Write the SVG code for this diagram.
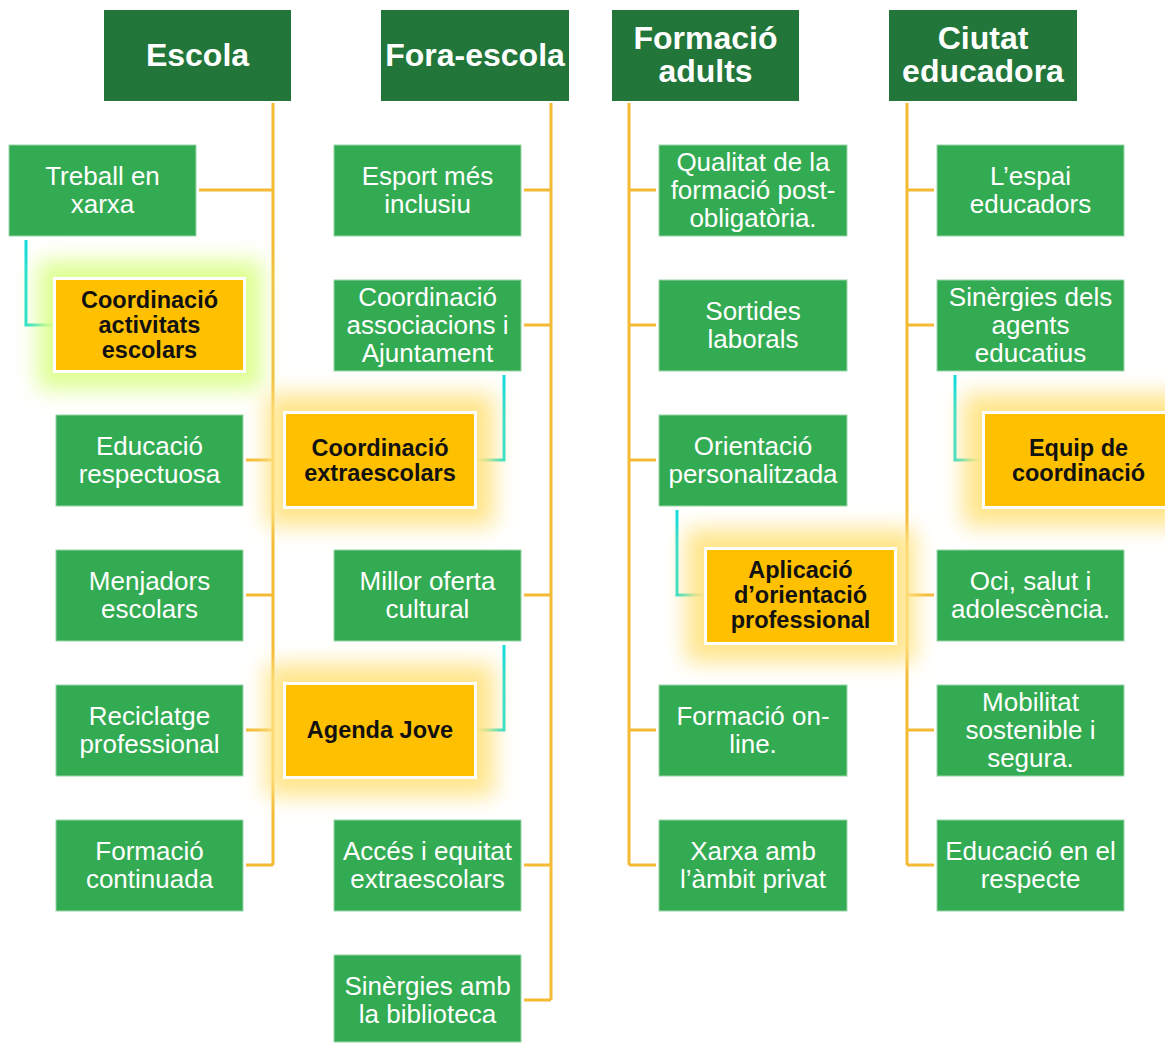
<svg xmlns="http://www.w3.org/2000/svg" width="1165" height="1043" viewBox="0 0 1165 1043">
<defs>
<style>
.hdr{fill:#22763A}
.hdrt{font-family:"Liberation Sans",Arial,sans-serif;font-weight:bold;font-size:32px;fill:#fff;text-anchor:middle}
.box{fill:#33AB52;stroke:#9ad6a8;stroke-width:1}
.bt{font-family:"Liberation Sans",Arial,sans-serif;font-size:26px;fill:#fff;text-anchor:middle}
.ob{fill:#FFC000;stroke:#fff;stroke-width:3}
.ot{font-family:"Liberation Sans",Arial,sans-serif;font-weight:bold;font-size:23.5px;fill:#111;text-anchor:middle}
.yl{fill:none;stroke:#F4BA34;stroke-width:3}
.tl{fill:none;stroke-width:3}
.glowY{fill:#FFE58A;filter:url(#blur)}
.glowG{fill:#DDFF8F;filter:url(#blur)}
</style>
<filter id="blur" x="-50%" y="-50%" width="200%" height="200%"><feGaussianBlur stdDeviation="11"/></filter>
<linearGradient id="tgR" x1="0" y1="0" x2="1" y2="1"><stop offset="0" stop-color="#12DCDC"/><stop offset="0.7" stop-color="#1CDDC8"/><stop offset="1" stop-color="#66E08A"/></linearGradient>
<linearGradient id="tgL" x1="1" y1="0" x2="0" y2="1"><stop offset="0" stop-color="#12DCDC"/><stop offset="0.7" stop-color="#1CDDC8"/><stop offset="1" stop-color="#66E08A"/></linearGradient>
</defs>
<rect width="1165" height="1043" fill="#fff"/>

<g id="connectors">
<path class="yl" d="M273 103V865M199 190H273M246 460H273M246 595H273M246 730H273M246 865H273"/>
<path class="yl" d="M551 103V1000M524 190H551M524 325H551M524 595H551M524 865H551M524 1000H551"/>
<path class="yl" d="M629 103V865M629 190H656M629 325H656M629 460H656M629 730H656M629 865H656"/>
<path class="yl" d="M907 103V865M907 190H934M907 325H934M907 595H934M907 730H934M907 865H934"/>
<path class="tl" stroke="url(#tgR)" d="M26 240V325H53"/>
<path class="tl" stroke="url(#tgL)" d="M504 375V460H477"/>
<path class="tl" stroke="url(#tgL)" d="M504 645V730H477"/>
<path class="tl" stroke="url(#tgR)" d="M677 510V595H704"/>
<path class="tl" stroke="url(#tgR)" d="M955 375V460H982"/>
</g>

<g id="h-escola"><rect class="hdr" x="104" y="10" width="187" height="91"/><text class="hdrt" x="197.5" y="66">Escola</text></g>
<g id="h-fora"><rect class="hdr" x="381" y="10" width="188" height="91"/><text class="hdrt" x="475" y="66">Fora-escola</text></g>
<g id="h-formacio"><rect class="hdr" x="612" y="10" width="187" height="91"/><text class="hdrt" x="705.5" y="49">Formació</text><text class="hdrt" x="705.5" y="82">adults</text></g>
<g id="h-ciutat"><rect class="hdr" x="889" y="10" width="188" height="91"/><text class="hdrt" x="983" y="49">Ciutat</text><text class="hdrt" x="983" y="82">educadora</text></g>

<!-- Escola -->
<g id="e1"><rect class="box" x="9" y="145" width="187" height="91"/><text class="bt" x="102.5" y="185">Treball en</text><text class="bt" x="102.5" y="213">xarxa</text></g>
<g id="e2"><rect class="glowG" x="38" y="261" width="224" height="128"/><rect class="ob" x="54.5" y="278.5" width="190" height="93"/><text class="ot" x="149.5" y="308">Coordinació</text><text class="ot" x="149.5" y="333">activitats</text><text class="ot" x="149.5" y="358">escolars</text></g>
<g id="e3"><rect class="box" x="56" y="415" width="187" height="91"/><text class="bt" x="149.5" y="455">Educació</text><text class="bt" x="149.5" y="483">respectuosa</text></g>
<g id="e4"><rect class="box" x="56" y="550" width="187" height="91"/><text class="bt" x="149.5" y="590">Menjadors</text><text class="bt" x="149.5" y="618">escolars</text></g>
<g id="e5"><rect class="box" x="56" y="685" width="187" height="91"/><text class="bt" x="149.5" y="725">Reciclatge</text><text class="bt" x="149.5" y="753">professional</text></g>
<g id="e6"><rect class="box" x="56" y="820" width="187" height="91"/><text class="bt" x="149.5" y="860">Formació</text><text class="bt" x="149.5" y="888">continuada</text></g>

<!-- Fora-escola -->
<g id="f1"><rect class="box" x="334" y="145" width="187" height="91"/><text class="bt" x="427.5" y="185">Esport més</text><text class="bt" x="427.5" y="213">inclusiu</text></g>
<g id="f2"><rect class="box" x="334" y="280" width="187" height="91"/><text class="bt" x="427.5" y="306">Coordinació</text><text class="bt" x="427.5" y="334">associacions i</text><text class="bt" x="427.5" y="362">Ajuntament</text></g>
<g id="f3"><rect class="glowY" x="266" y="394" width="228" height="132"/><rect class="ob" x="284.5" y="412.5" width="191" height="95"/><text class="ot" x="380" y="456">Coordinació</text><text class="ot" x="380" y="481">extraescolars</text></g>
<g id="f4"><rect class="box" x="334" y="550" width="187" height="91"/><text class="bt" x="427.5" y="590">Millor oferta</text><text class="bt" x="427.5" y="618">cultural</text></g>
<g id="f5"><rect class="glowY" x="266" y="664" width="228" height="132"/><rect class="ob" x="284.5" y="683.5" width="191" height="94"/><text class="ot" x="380" y="738">Agenda Jove</text></g>
<g id="f6"><rect class="box" x="334" y="820" width="187" height="91"/><text class="bt" x="427.5" y="860">Accés i equitat</text><text class="bt" x="427.5" y="888">extraescolars</text></g>
<g id="f7"><rect class="box" x="334" y="955" width="187" height="87"/><text class="bt" x="427.5" y="995">Sinèrgies amb</text><text class="bt" x="427.5" y="1023">la biblioteca</text></g>

<!-- Formació adults -->
<g id="a1"><rect class="box" x="659" y="145" width="188" height="91"/><text class="bt" x="753" y="171">Qualitat de la</text><text class="bt" x="753" y="199">formació post-</text><text class="bt" x="753" y="227">obligatòria.</text></g>
<g id="a2"><rect class="box" x="659" y="280" width="188" height="91"/><text class="bt" x="753" y="320">Sortides</text><text class="bt" x="753" y="348">laborals</text></g>
<g id="a3"><rect class="box" x="659" y="415" width="188" height="91"/><text class="bt" x="753" y="455">Orientació</text><text class="bt" x="753" y="483">personalitzada</text></g>
<g id="a4"><rect class="glowY" x="686" y="529" width="229" height="133"/><rect class="ob" x="705.5" y="548.5" width="190" height="95"/><text class="ot" x="800.5" y="578">Aplicació</text><text class="ot" x="800.5" y="603">d’orientació</text><text class="ot" x="800.5" y="628">professional</text></g>
<g id="a5"><rect class="box" x="659" y="685" width="188" height="91"/><text class="bt" x="753" y="725">Formació on-</text><text class="bt" x="753" y="753">line.</text></g>
<g id="a6"><rect class="box" x="659" y="820" width="188" height="91"/><text class="bt" x="753" y="860">Xarxa amb</text><text class="bt" x="753" y="888">l’àmbit privat</text></g>

<!-- Ciutat educadora -->
<g id="c1"><rect class="box" x="937" y="145" width="187" height="91"/><text class="bt" x="1030.5" y="185">L’espai</text><text class="bt" x="1030.5" y="213">educadors</text></g>
<g id="c2"><rect class="box" x="937" y="280" width="187" height="91"/><text class="bt" x="1030.5" y="306">Sinèrgies dels</text><text class="bt" x="1030.5" y="334">agents</text><text class="bt" x="1030.5" y="362">educatius</text></g>
<g id="c3"><rect class="glowY" x="963" y="394" width="232" height="132"/><rect class="ob" x="983.5" y="412.5" width="192" height="95"/><text class="ot" x="1078.5" y="456">Equip de</text><text class="ot" x="1078.5" y="481">coordinació</text></g>
<g id="c4"><rect class="box" x="937" y="550" width="187" height="91"/><text class="bt" x="1030.5" y="590">Oci, salut i</text><text class="bt" x="1030.5" y="618">adolescència.</text></g>
<g id="c5"><rect class="box" x="937" y="685" width="187" height="91"/><text class="bt" x="1030.5" y="711">Mobilitat</text><text class="bt" x="1030.5" y="739">sostenible i</text><text class="bt" x="1030.5" y="767">segura.</text></g>
<g id="c6"><rect class="box" x="937" y="820" width="187" height="91"/><text class="bt" x="1030.5" y="860">Educació en el</text><text class="bt" x="1030.5" y="888">respecte</text></g>
</svg>
